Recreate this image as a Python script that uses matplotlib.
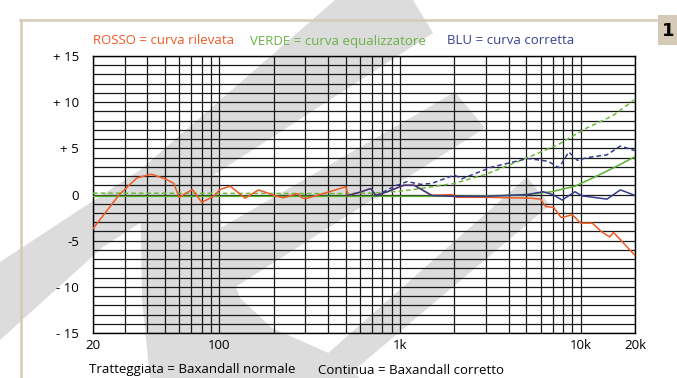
import matplotlib
matplotlib.use("Agg")
import matplotlib.pyplot as plt
from matplotlib.patches import Polygon, Rectangle

plt.rcParams['font.family'] = ['Open Sans', 'DejaVu Sans']

# --- data (Hz, dB) ---
red_f = [20, 28, 35, 42, 50, 56, 60, 65, 71, 80, 93, 101, 115, 139, 165, 205,
         227, 271, 289, 307, 400, 502, 516, 600, 690, 735, 850, 1050, 1200,
         1500, 1950, 2050, 3000, 5300, 6000, 6400, 7100, 7800, 9000, 10000,
         11600, 13000, 14500, 15200, 16600, 20000]
red_db = [-3.7, 0.0, 1.8, 2.2, 1.7, 1.2, -0.3, 0.1, 0.55, -0.85, -0.2, 0.55,
          0.9, -0.4, 0.5, -0.15, -0.35, 0.1, -0.4, -0.4, 0.25, 0.85, -0.1,
          0.25, 0.65, -0.1, 0.3, 1.0, 1.0, -0.1, 0.0, -0.3, -0.3, -0.4, -0.5,
          -1.3, -1.4, -2.5, -2.2, -3.1, -3.1, -4.0, -4.6, -4.1, -4.9, -6.6]

blue_f = [515, 600, 690, 735, 850, 1050, 1200, 1500, 2000, 3000, 5100, 6200,
          7000, 7900, 9300, 10200, 14000, 16600, 20000]
blue_db = [-0.1, 0.25, 0.65, -0.1, 0.3, 1.0, 1.0, -0.1, -0.2, -0.2, 0.0, 0.3,
           0.0, -0.6, 0.3, -0.15, -0.5, 0.5, -0.1]

blue_dash_f = [735, 870, 960, 1100, 1300, 1500, 1700, 2000, 2200, 3200, 5100,
               6600, 7600, 8600, 9600, 10900, 14000, 16600, 20000]
blue_dash_db = [-0.2, 0.6, 1.0, 1.4, 1.1, 1.2, 1.6, 2.1, 1.7, 2.95, 3.9, 3.6,
                2.9, 4.6, 3.7, 4.0, 4.3, 5.25, 4.75]

green_dash_f = [20, 500, 700, 1000, 1250, 2000, 3000, 5100, 7500, 10800, 15000, 20000]
green_dash_db = [0.15, 0.1, 0.15, 0.35, 0.6, 1.2, 2.2, 4.0, 5.4, 7.2, 8.5, 10.3]

green_f = [20, 2000, 4000, 5100, 6900, 9300, 12000, 16000, 20000]
green_db = [-0.2, -0.2, -0.1, 0.0, 0.3, 0.9, 1.9, 3.1, 4.1]

grid_f = [20, 30, 40, 50, 60, 70, 80, 90, 100, 200, 300, 400, 500, 600, 700,
          800, 900, 1000, 2000, 3000, 4000, 5000, 6000, 7000, 8000, 9000,
          10000, 20000]
xtick_f = [20, 100, 1000, 10000, 20000]
xtick_lab = ['20', '100', '1k', '10k', '20k']
ytick_v = [15, 10, 5, 0, -5, -10, -15]
ytick_lab = ['+ 15', '+ 10', '+ 5', '0', '-5', '- 10', '- 15']

RED = '#f05a24'
GREEN = '#5cb032'
BLUE = '#363b8c'
GRAY = '#dcdcdc'
BEIGE = '#d5cab6'

W, H = 677, 378
fig = plt.figure(figsize=(W / 100, H / 100), dpi=100)

# background layer in pixel coordinates (watermark logo + page frame)
bg = fig.add_axes([0, 0, 1, 1], zorder=0)
bg.set_xlim(0, W)
bg.set_ylim(H, 0)
bg.axis('off')
shapes = [
    [(335, 0), (413, 0), (433, 33), (103, 247), (0, 340), (0, 262), (140, 170)],
    [(455, 92), (485, 128), (215, 300), (200, 240)],
    [(527, 177), (550, 205), (345, 378), (300, 378)],
    [(140, 170), (218, 175), (222, 250), (240, 298), (272, 328), (333, 355),
     (360, 378), (150, 378), (142, 300)],
]
for pts in shapes:
    bg.add_patch(Polygon(pts, color=GRAY, lw=0))
bg.plot([20, 656], [20, 20], color=BEIGE, lw=1.8)
bg.plot([21, 21], [20, H], color=BEIGE, lw=1.8)
bg.add_patch(Rectangle((658, 15), 25, 30, color=BEIGE, lw=0))
bg.text(668, 31, '1', fontsize=13, fontweight='bold', ha='center', va='center',
        family='DejaVu Sans')

x0, x1, y0, y1 = 93, 635, 56, 333
ax = fig.add_axes([x0 / W, 1 - y1 / H, (x1 - x0) / W, (y1 - y0) / H], zorder=1)
ax.set_facecolor('none')
ax.set_xscale('log')
ax.set_xlim(20, 20000)
ax.set_ylim(-15, 15)

for f in grid_f:
    ax.axvline(f, color='#1a1a1a', lw=0.9, zorder=1)
for v in range(-15, 16):
    ax.axhline(v, color='#1a1a1a', lw=0.9, zorder=1)

ax.plot(green_f, green_db, color=GREEN, lw=1.1, zorder=3)
ax.plot(green_dash_f, green_dash_db, color='#6cbb3c', lw=1.1, ls=(0, (3, 2)), zorder=3)
ax.plot(red_f, red_db, color=RED, lw=1.1, zorder=4)
ax.plot(blue_f, blue_db, color=BLUE, lw=1.1, zorder=5)
ax.plot(blue_dash_f, blue_dash_db, color=BLUE, lw=1.1, ls=(0, (3, 2)), zorder=5)

ax.set_xticks(xtick_f)
ax.set_xticklabels(xtick_lab)
ax.xaxis.set_minor_locator(matplotlib.ticker.NullLocator())
ax.set_yticks(ytick_v)
ax.set_yticklabels(ytick_lab)
ax.tick_params(length=0, labelsize=9.5, pad=4)
ax.tick_params(axis='y', pad=10)
for s in ax.spines.values():
    s.set_linewidth(1.0)

fs = 9.5
ty = 1 - 41 / H
fig.text(93 / W, ty, 'ROSSO = curva rilevata', color=RED, fontsize=fs, va='center')
fig.text(250 / W, ty, 'VERDE = curva equalizzatore', color='#69b243', fontsize=fs, va='center')
fig.text(447 / W, ty, 'BLU = curva corretta', color='#3d4190', fontsize=fs, va='center')
by = 1 - 370 / H
fig.text(89 / W, by, 'Tratteggiata = Baxandall normale', fontsize=fs, va='center')
fig.text(318 / W, by, 'Continua = Baxandall corretto', fontsize=fs, va='center')

fig.savefig('out.png', dpi=100)
